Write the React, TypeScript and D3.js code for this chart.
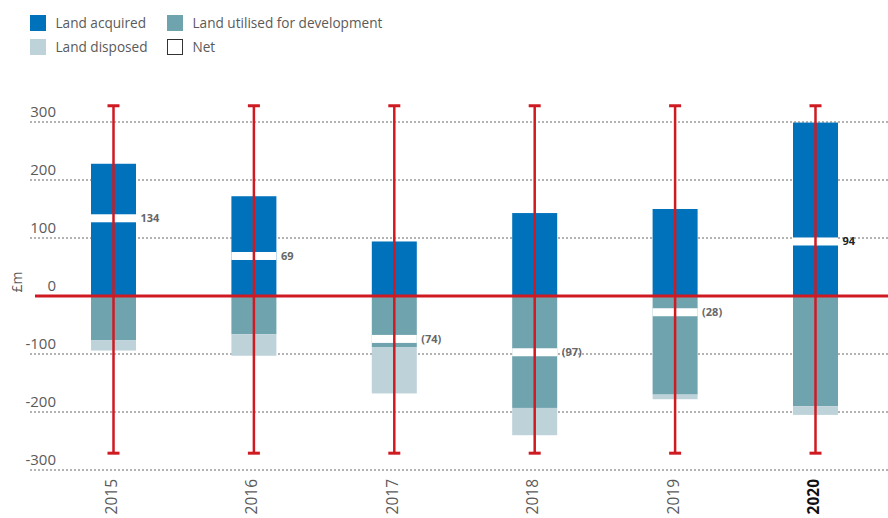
import { scaleLinear, scalePoint } from "d3";

const YEARS = ["2015", "2016", "2017", "2018", "2019", "2020"];
const ACQUIRED = [228, 172, 94, 143, 150, 299];
const UTILISED = [76, 66, 88, 193, 170, 190];
const DISPOSED = [18, 37, 80, 47, 8, 15];
const NET = [134, 69, -74, -97, -28, 94];
const NET_LABELS = ["134", "69", "(74)", "(97)", "(28)", "94"];
const RANGE_HIGH = [328, 328, 328, 328, 328, 328];
const RANGE_LOW = [-271, -271, -271, -271, -271, -271];
const Y_TICKS = [300, 200, 100, 0, -100, -200, -300];
const HIGHLIGHT_YEAR = "2020";

const LEGEND = [
  { label: "Land acquired", color: "#0072bc", col: 0, row: 0 },
  { label: "Land utilised for development", color: "#6fa3ae", col: 1, row: 0 },
  { label: "Land disposed", color: "#bdd2d9", col: 0, row: 1 },
  { label: "Net", color: "none", col: 1, row: 1 },
];

const COLORS = {
  acquired: "#0072bc",
  utilised: "#6fa3ae",
  disposed: "#bdd2d9",
  red: "#cf1a22",
  grid: "#9a9a9a",
  text: "#5a5a5a",
};

const WIDTH = 888;
const HEIGHT = 518;
const BAR_W = 45;
const FONT = "'Open Sans', 'Noto Sans', sans-serif";

export default function App() {
  const y = scaleLinear().domain([-300, 300]).range([470, 122]);
  const x = scalePoint<string>().domain(YEARS).range([113.5, 815.5]);

  return (
    <svg
      width={WIDTH}
      height={HEIGHT}
      style={{ position: "absolute", left: 0, top: 0, display: "block" }}
      fontFamily={FONT}
    >
      {/* legend */}
      {LEGEND.map(item => {
        const lx = item.col === 0 ? 30 : 167;
        const ly = item.row === 0 ? 15 : 39;
        return (
          <g key={item.label} transform={`translate(${lx},${ly})`}>
            {item.color === "none" ? (
              <rect x={0.5} y={0.5} width={15} height={15} fill="white" stroke="#333" strokeWidth={1} />
            ) : (
              <rect width={16} height={16} fill={item.color} />
            )}
            <text x={25.5} y={13} fontSize={13.6} fill={COLORS.text}>
              {item.label}
            </text>
          </g>
        );
      })}

      {/* grid */}
      {Y_TICKS.filter(t => t !== 0).map(t => (
        <line
          key={t}
          x1={30}
          x2={WIDTH}
          y1={y(t)}
          y2={y(t)}
          stroke={COLORS.grid}
          strokeWidth={1.5}
          strokeDasharray="2,2"
        />
      ))}
      {Y_TICKS.map(t => (
        <text
          key={t}
          x={56}
          y={y(t) - 5}
          textAnchor="end"
          fontSize={15}
          fill={COLORS.text}
        >
          {t < 0 ? `-${Math.abs(t)}` : t}
        </text>
      ))}
      <text
        transform="translate(22,282) rotate(-90)"
        textAnchor="middle"
        fontSize={14}
        fill={COLORS.text}
      >
        £m
      </text>

      {/* stacked bars */}
      {YEARS.map((yr, i) => {
        const cx = x(yr) ?? 0;
        const left = cx - BAR_W / 2;
        const uBottom = -UTILISED[i];
        const dBottom = uBottom - DISPOSED[i];
        return (
          <g key={yr}>
            <rect x={left} y={y(ACQUIRED[i])} width={BAR_W} height={y(0) - y(ACQUIRED[i])} fill={COLORS.acquired} />
            <rect x={left} y={y(0)} width={BAR_W} height={y(uBottom) - y(0)} fill={COLORS.utilised} />
            <rect x={left} y={y(uBottom)} width={BAR_W} height={y(dBottom) - y(uBottom)} fill={COLORS.disposed} />
            <rect x={left} y={y(NET[i]) - 4} width={BAR_W} height={8} fill="white" />
            <text
              x={left + BAR_W + 4.5}
              y={y(NET[i])}
              dy="0.35em"
              fontSize={11}
              fontWeight="bold"
              fill={yr === HIGHLIGHT_YEAR ? "#222" : "#666"}
            >
              {NET_LABELS[i]}
            </text>
          </g>
        );
      })}

      {/* zero line */}
      <line x1={35} x2={WIDTH} y1={y(0)} y2={y(0)} stroke={COLORS.red} strokeWidth={3} />

      {/* range whiskers */}
      {YEARS.map((yr, i) => {
        const cx = x(yr) ?? 0;
        return (
          <g key={yr} stroke={COLORS.red}>
            <line x1={cx} x2={cx} y1={y(RANGE_HIGH[i])} y2={y(RANGE_LOW[i])} strokeWidth={2.5} />
            <line x1={cx - 6} x2={cx + 6} y1={y(RANGE_HIGH[i])} y2={y(RANGE_HIGH[i])} strokeWidth={3} />
            <line x1={cx - 6} x2={cx + 6} y1={y(RANGE_LOW[i])} y2={y(RANGE_LOW[i])} strokeWidth={3} />
          </g>
        );
      })}

      {/* year labels */}
      {YEARS.map(yr => (
        <text
          key={yr}
          transform={`translate(${(x(yr) ?? 0) - 2},479) rotate(-90)`}
          textAnchor="end"
          dy="0.35em"
          fontSize={15.5}
          fontWeight={yr === HIGHLIGHT_YEAR ? "bold" : "normal"}
          fill={yr === HIGHLIGHT_YEAR ? "#111" : COLORS.text}
        >
          {yr}
        </text>
      ))}
    </svg>
  );
}
